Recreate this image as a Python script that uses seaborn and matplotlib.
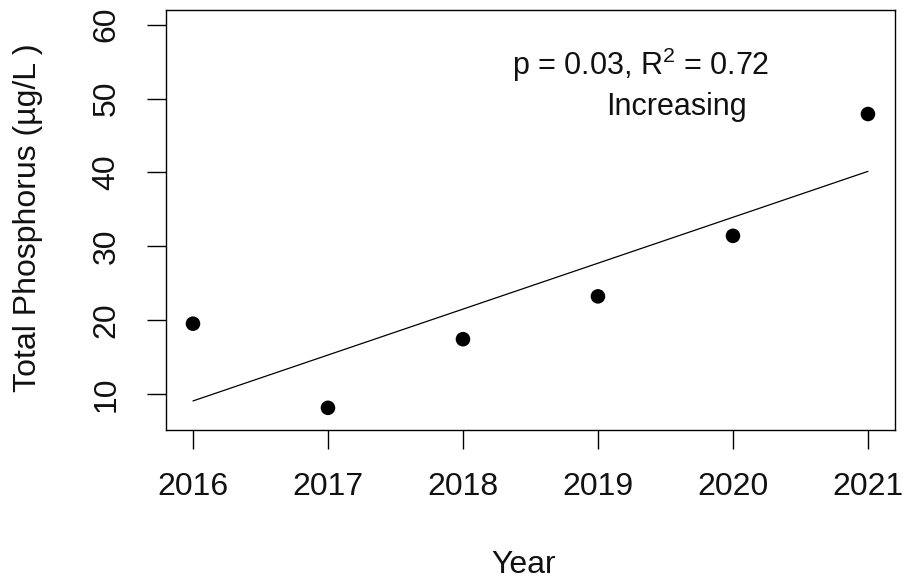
import matplotlib
matplotlib.use("Agg")
import pandas as pd
import seaborn as sns
import matplotlib.pyplot as plt

# values
years = [2016, 2017, 2018, 2019, 2020, 2021]
phosphorus = [19.5, 8.1, 17.4, 23.2, 31.4, 47.9]
y_ticks = [10, 20, 30, 40, 50, 60]
stats_label = r"p = 0.03, R$^{2}$ = 0.72"
trend_label = "Increasing"

df = pd.DataFrame({"Year": years, "TP": phosphorus})

sns.set_style("ticks")
plt.rcParams["font.family"] = ["Liberation Sans", "DejaVu Sans"]
plt.rcParams["mathtext.fontset"] = "custom"
plt.rcParams["mathtext.rm"] = "Liberation Sans"

fig = plt.figure(figsize=(9.04, 5.85), dpi=100)
ax = fig.add_axes([0.1836, 0.265, 0.8064, 0.718])

sns.regplot(data=df, x="Year", y="TP", ax=ax, ci=None,
            scatter_kws={"s": 110, "color": "black", "edgecolor": "none", "alpha": 1},
            line_kws={"color": "black", "linewidth": 0.9})

ax.set_xlim(2015.8, 2021.2)
ax.set_ylim(5.1, 62.0)
ax.set_xticks(years)
ax.set_yticks(y_ticks)
ax.set_yticklabels([str(t) for t in y_ticks], rotation=90, va="center")
ax.tick_params(axis="both", length=14, width=1, labelsize=23, color="black",
               labelcolor="#111111")
ax.tick_params(axis="x", pad=16)
ax.tick_params(axis="y", pad=18)

for side in ax.spines.values():
    side.set_visible(True)
    side.set_linewidth(1)
    side.set_color("black")

ax.set_xlabel("Year", fontsize=23, color="#111111")
ax.set_ylabel("Total Phosphorus (µg/L )", fontsize=23, color="#111111")
ax.xaxis.set_label_coords(0.49, -0.321)
ax.yaxis.set_label_coords(-0.189, 0.505)
ax.xaxis.label.set_va("center")
ax.yaxis.label.set_va("center")

ax.text(2018.364, 53.2, stats_label, fontsize=22, ha="left", va="baseline", color="#111111")
ax.text(2019.06, 47.8, trend_label, fontsize=22, ha="left", va="baseline", color="#111111")

fig.savefig("out.png", dpi=100)
